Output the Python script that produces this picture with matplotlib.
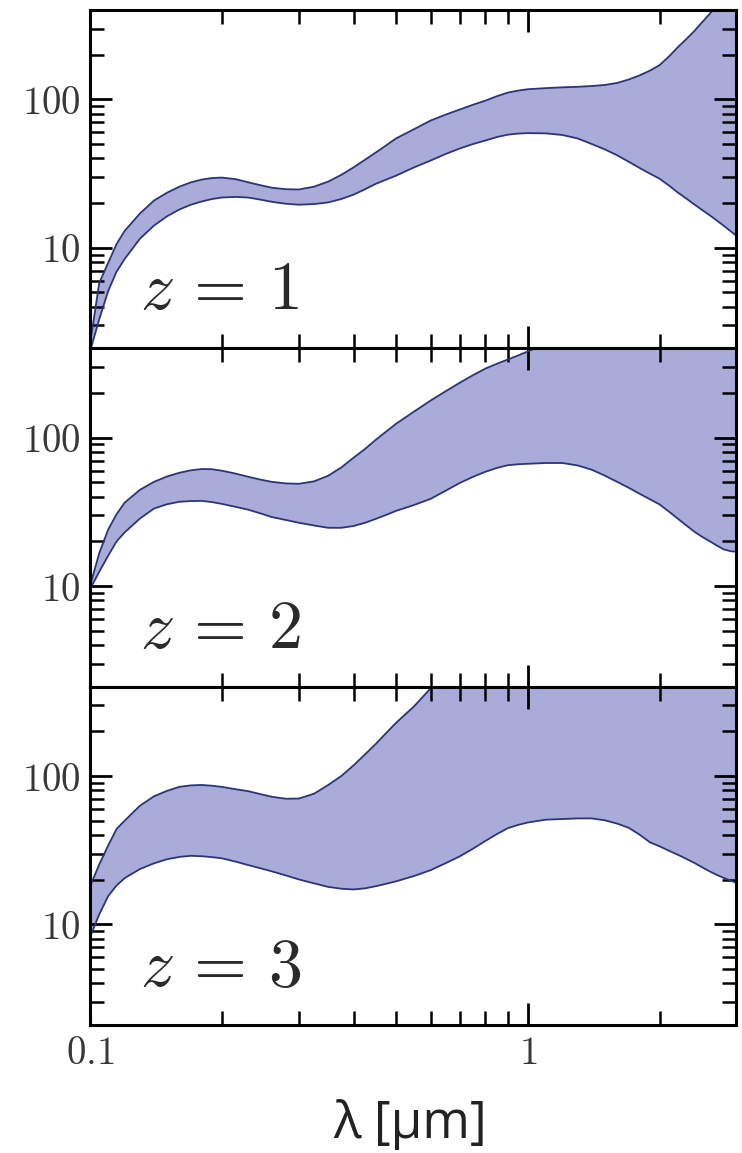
import matplotlib
matplotlib.use("Agg")
import matplotlib.pyplot as plt
from matplotlib.ticker import LogLocator, FuncFormatter, NullFormatter

plt.rcParams["mathtext.fontset"] = "cm"
plt.rcParams["font.family"] = ["DejaVu Serif"]

# wavelength grid [micron]
lam = [0.1, 0.105, 0.11, 0.115, 0.12, 0.13, 0.14, 0.15, 0.16, 0.17,
       0.18, 0.19, 0.2, 0.215, 0.23, 0.245, 0.26, 0.28, 0.3, 0.325,
       0.35, 0.375, 0.4, 0.425, 0.45, 0.475, 0.5, 0.55, 0.6, 0.65,
       0.7, 0.75, 0.8, 0.85, 0.9, 0.95, 1.0, 1.1, 1.2, 1.3,
       1.4, 1.5, 1.6, 1.7, 1.8, 1.9, 2.0, 2.1, 2.2, 2.3,
       2.4, 2.5, 2.6, 2.7, 2.8, 2.9, 3.0]

# z = 1 band
z1_upper = [2.24, 5.8, 7.9, 10.6, 13.0, 17.0, 20.8, 23.5, 25.8, 27.6,
            28.8, 29.5, 29.7, 29.0, 27.6, 26.4, 25.4, 24.8, 24.7, 25.8,
            27.9, 31.0, 34.8, 39.2, 43.9, 49.0, 54.5, 63, 72, 79,
            85.5, 92, 98, 105, 111, 114.5, 117, 119, 120.5, 121.5,
            123, 125, 129, 136, 145, 156, 170, 194, 224, 254,
            288, 330, 375, 430, 480, 540, 600]
z1_lower = [2.0, 3.3, 5.1, 6.9, 8.4, 11.5, 14.1, 16.3, 18.1, 19.5,
            20.5, 21.3, 21.8, 22.0, 21.8, 21.1, 20.4, 19.8, 19.5, 19.7,
            20.2, 21.3, 22.8, 24.8, 27.0, 28.8, 30.6, 34.8, 38.7, 42.9,
            46.7, 50.0, 52.8, 55.7, 57.8, 58.8, 59.2, 59.0, 57.5, 54.5,
            50.0, 46.0, 42.0, 38.0, 34.5, 31.6, 29.2, 26.3, 23.6, 21.5,
            19.6, 18.0, 16.6, 15.3, 14.1, 13.0, 12.0]

# z = 2 band
z2_upper = [10, 16.7, 24.0, 30.5, 36.5, 44.5, 50.4, 54.8, 58, 60.3,
            61.5, 61.3, 59.9, 57.3, 54.5, 52.2, 50.4, 49.2, 48.9, 50.8,
            55.4, 63, 73.3, 84, 97, 110, 124, 150, 178, 206,
            235, 264, 292, 315, 336, 358, 381, 430, 480, 520,
            560, 590, 620, 640, 660, 680, 700, 710, 720, 730,
            740, 750, 760, 770, 780, 790, 800]
z2_lower = [9.5, 12.5, 16, 20.0, 23.0, 28.5, 33.3, 35.6, 37, 37.4,
            37.5, 36.8, 35.8, 34.2, 32.7, 30.9, 29.2, 27.9, 26.7, 25.6,
            24.7, 24.7, 25.4, 26.7, 28.4, 30.2, 32.1, 35.2, 38.7, 44,
            49.6, 54.5, 58.9, 62.5, 65.2, 66.2, 66.7, 67.5, 67.5, 65,
            60.8, 55.5, 50.4, 46, 41.9, 38.5, 35.5, 31.8, 28.5, 25.7,
            23.3, 21.5, 20.1, 18.8, 17.7, 17.2, 17.0]

# z = 3 band
z3_upper = [18, 25.4, 34, 44, 50, 63, 73, 79.5, 84.5, 86.5,
            87, 86, 84.5, 81.5, 79, 75.5, 72.5, 70.3, 70.5, 76,
            87, 100, 118, 140, 165, 195, 228, 295, 390, 470,
            560, 620, 680, 700, 710, 720, 730, 740, 750, 760,
            770, 780, 790, 800, 800, 800, 800, 800, 800, 800,
            800, 800, 800, 800, 800, 800, 800]
z3_lower = [8.2, 11.7, 15.5, 18.3, 20.5, 23.6, 25.8, 27.5, 28.5, 29.0,
            28.8, 28.4, 27.9, 26.5, 25.1, 23.9, 22.8, 21.4, 20.1, 18.9,
            17.9, 17.4, 17.2, 17.5, 18.1, 18.8, 19.5, 21.2, 23.2, 25.9,
            28.8, 32.4, 36.5, 40.6, 44.5, 46.8, 48.6, 50.8, 51.3, 51.8,
            51.8, 50.3, 47.8, 44.8, 40.3, 35.8, 33.6, 31.4, 29.5, 27.7,
            26.0, 24.3, 22.8, 21.6, 20.6, 19.8, 19.0]

bands = [(z1_lower, z1_upper, r"$z\,=\,1$"),
         (z2_lower, z2_upper, r"$z\,=\,2$"),
         (z3_lower, z3_upper, r"$z\,=\,3$")]

fill_color = "#a9acd9"
edge_color = "#2c3577"
text_color = "#383838"

fig, axes = plt.subplots(3, 1, figsize=(7.42, 11.53), dpi=100, sharex=True)
fig.subplots_adjust(left=90 / 742, right=736 / 742,
                    top=1 - 10 / 1153, bottom=1 - 1025 / 1153, hspace=0)


def num_fmt(v, pos):
    if v >= 1:
        return r"$%d$" % round(v)
    return r"$%g$" % v


for ax, (lo, hi, label) in zip(axes, bands):
    ax.fill_between(lam, lo, hi, facecolor=fill_color, edgecolor="none",
                    zorder=1)
    ax.plot(lam, hi, color=edge_color, lw=1.3, zorder=2)
    ax.plot(lam, lo, color=edge_color, lw=1.3, zorder=2)
    ax.set_xscale("log")
    ax.set_yscale("log")
    ax.set_xlim(0.1, 2.99)
    ax.set_ylim(2.1, 400)

    ax.xaxis.set_major_locator(LogLocator(base=10, numticks=10))
    ax.xaxis.set_minor_locator(LogLocator(base=10, subs=range(2, 10),
                                          numticks=10))
    ax.yaxis.set_major_locator(LogLocator(base=10, numticks=10))
    ax.yaxis.set_minor_locator(LogLocator(base=10, subs=range(2, 10),
                                          numticks=10))
    ax.xaxis.set_major_formatter(FuncFormatter(num_fmt))
    ax.yaxis.set_major_formatter(FuncFormatter(num_fmt))
    ax.xaxis.set_minor_formatter(NullFormatter())
    ax.yaxis.set_minor_formatter(NullFormatter())

    ax.tick_params(which="both", direction="in", top=True, right=True,
                   colors="black", labelcolor=text_color, labelsize=28,
                   pad=7)
    ax.tick_params(which="major", length=16, width=2.0)
    ax.tick_params(which="minor", length=10, width=1.8)
    for sp in ax.spines.values():
        sp.set_linewidth(2.2)
        sp.set_zorder(5)

    ax.text(0.078, 0.115, label, transform=ax.transAxes, fontsize=49,
            color="#2a2a2a", ha="left", va="baseline")

for ax in axes[:-1]:
    ax.tick_params(labelbottom=False)

fig.text(410 / 742, 1 - 1124 / 1153, "λ [μm]", ha="center", va="center",
         fontsize=37, family=["Open Sans", "DejaVu Sans"], color="#222222")

fig.savefig("out.png", dpi=100)
